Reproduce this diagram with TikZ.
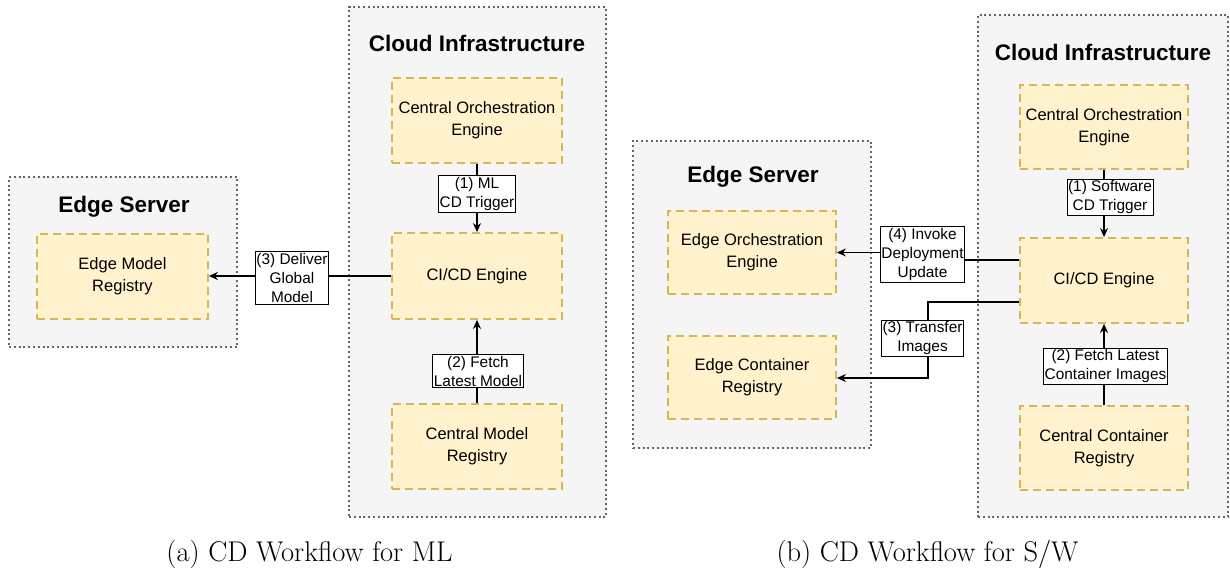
\documentclass[tikz,border=0pt]{standalone}
\usepackage{fontspec}
\newfontfamily\arial{Liberation Sans}
\usetikzlibrary{arrows.meta,positioning,calc}
\definecolor{panelfill}{HTML}{F5F5F5}
\definecolor{panelline}{HTML}{666666}
\definecolor{unitfill}{HTML}{FFF2CC}
\definecolor{unitline}{HTML}{D6B656}
\pgfdeclarelayer{bg}
\pgfdeclarelayer{edges}
\pgfsetlayers{bg,edges,main}
\tikzset{
  panel/.style={draw=panelline, fill=panelfill, line width=2pt,
    dash pattern=on 2pt off 2.8pt, inner sep=0pt},
  paneltitle/.style={font=\arial\bfseries\fontsize{22.5}{26}\selectfont, inner sep=0pt},
  unit/.style={draw=unitline, fill=unitfill, line width=1.8pt,
    dash pattern=on 8pt off 5pt, align=center, inner sep=0pt,
    font=\arial\fontsize{16.5}{22}\selectfont},
  tag/.style={draw=black, fill=white, line width=0.9pt, align=center,
    inner xsep=1pt, inner ysep=1.5pt, font=\arial\fontsize{15.4}{19}\selectfont},
  flow/.style={draw=black, line width=1.2pt, -{Stealth[length=9pt,width=8pt]}},
  caption/.style={font=\fontsize{28.5}{32}\selectfont, inner sep=0pt, anchor=base},
}
\begin{document}
\begin{tikzpicture}[x=1pt,y=-1pt]
\useasboundingbox (0,0) rectangle (1230,574);

% ---------- (a) ML workflow ----------
\begin{pgfonlayer}{bg}
  \node[panel, minimum width=228pt, minimum height=170pt] (edgeA) at (123,262) {};
  \node[panel, minimum width=257pt, minimum height=510pt] (cloudA) at (477.5,262) {};
\end{pgfonlayer}
\node[paneltitle] (edgeAtitle) at (124,207) {Edge Server};
\node[paneltitle] (cloudAtitle) at (477,43) {Cloud Infrastructure};

\node[unit, minimum width=171pt, minimum height=85pt] (emr) at (122.5,276.5) {Edge Model\\Registry};
\node[unit, minimum width=170pt, minimum height=85pt] (coeA) at (477,120.5) {Central Orchestration\\Engine};
\node[unit, minimum width=170pt, minimum height=86pt] (cicdA) at (477,276) {CI/CD Engine};
\node[unit, minimum width=170pt, minimum height=85pt] (cmrA) at (477,446.5) {Central Model\\Registry};

\node[tag] (lab1A) at (477,194) {(1) ML\\CD Trigger};
\node[tag] (lab2A) at (478,371) {(2) Fetch\\Latest Model};
\node[tag] (lab3A) at (292,278) {(3) Deliver\\Global\\Model};

\begin{pgfonlayer}{edges}
  \draw[flow] (coeA) -- (cicdA);
  \draw[flow] (cmrA) -- (cicdA);
  \draw[flow] (cicdA.west) -- (emr.east |- cicdA.west);
\end{pgfonlayer}

% ---------- (b) software workflow ----------
\begin{pgfonlayer}{bg}
  \node[panel, minimum width=238pt, minimum height=307pt] (edgeB) at (752,294.5) {};
  \node[panel, minimum width=250pt, minimum height=502pt] (cloudB) at (1103,266) {};
\end{pgfonlayer}
\node[paneltitle] (edgeBtitle) at (753,177) {Edge Server};
\node[paneltitle] (cloudBtitle) at (1103,52) {Cloud Infrastructure};

\node[unit, minimum width=168pt, minimum height=83pt] (eoe) at (752,252.5) {Edge Orchestration\\Engine};
\node[unit, minimum width=168pt, minimum height=83pt] (ecr) at (752,377.5) {Edge Container\\Registry};
\node[unit, minimum width=168pt, minimum height=84pt] (coeB) at (1104,127) {Central Orchestration\\Engine};
\node[unit, minimum width=168pt, minimum height=85pt] (cicdB) at (1104,280.5) {CI/CD Engine};
\node[unit, minimum width=168pt, minimum height=84pt] (ccrB) at (1104,448) {Central Container\\Registry};

\node[tag] (lab1B) at (1110,197.5) {(1) Software\\CD Trigger};
\node[tag] (lab2B) at (1105.5,366.5) {(2) Fetch Latest\\Container Images};
\node[tag] (lab4B) at (922.5,254.5) {(4) Invoke\\Deployment\\Update};
\node[tag] (lab3B) at (922.5,338.5) {(3) Transfer\\Images};

\coordinate (bend4) at (922,256);
\coordinate (bend3) at (928,378);

\begin{pgfonlayer}{edges}
  \draw[flow] (coeB) -- (cicdB);
  \draw[flow] (ccrB) -- (cicdB);
  \draw[flow] ([yshift=20.5pt]cicdB.west) -| (bend4) |- (eoe.east);
  \draw[flow] ([yshift=-21.5pt]cicdB.west) -| (bend3) -- (ecr.east |- bend3);
\end{pgfonlayer}

% ---------- captions ----------
\node[caption] (capA) at (309.5,561) {(a) CD Workflow for ML};
\node[caption] (capB) at (927.5,561) {(b) CD Workflow for S/W};
\end{tikzpicture}
\end{document}
